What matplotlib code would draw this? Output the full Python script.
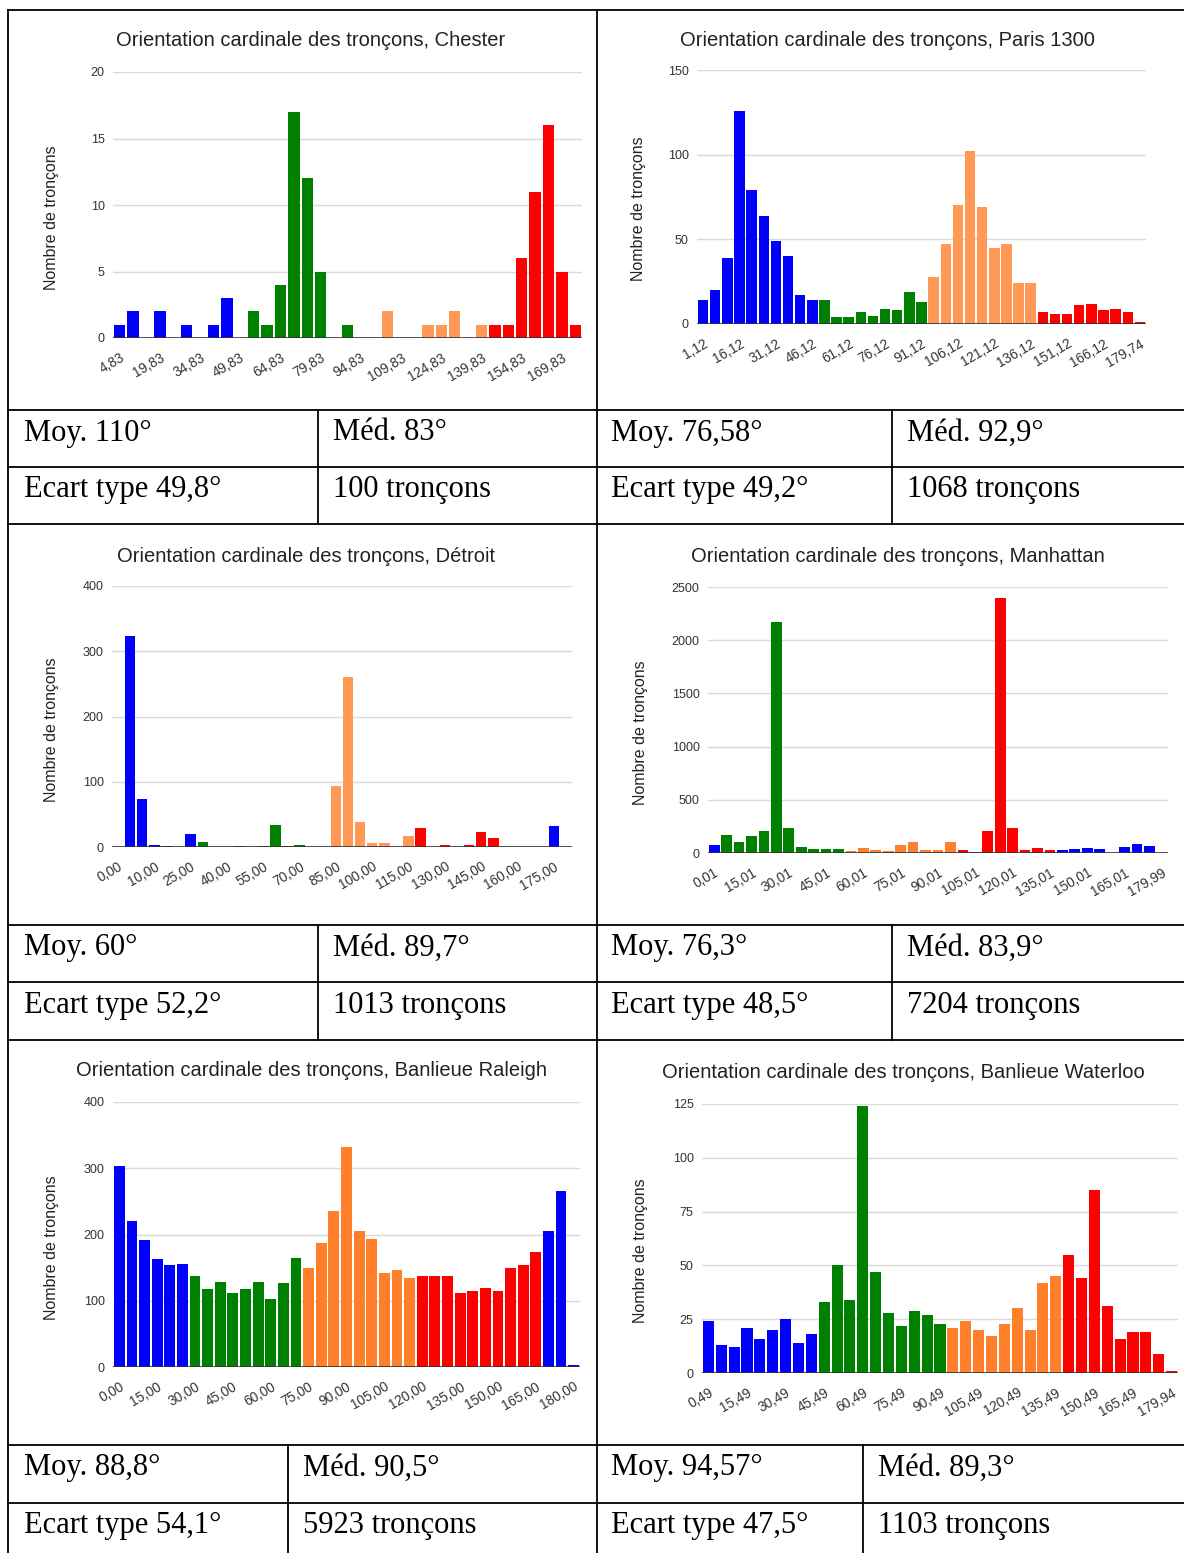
import matplotlib
matplotlib.use("Agg")
import matplotlib.pyplot as plt
from matplotlib.lines import Line2D

W, H = 1184, 1553

# ---- data ----
chester_vals = [1, 2, 0, 2, 0, 1, 0, 1, 3, 0, 2, 1, 4, 17, 12, 5, 0, 1, 0,
                0, 2, 0, 0, 1, 1, 2, 0, 1, 1, 1, 6, 11, 16, 5, 1]
chester_dir = "BBBBBBBBBBGGGGGGGGGOOOOOOOOORRRRRRR"
chester_ticks = ["4,83", "19,83", "34,83", "49,83", "64,83", "79,83", "94,83",
                 "109,83", "124,83", "139,83", "154,83", "169,83"]

paris_vals = [14, 20, 39, 126, 79, 64, 49, 40, 17, 14, 14, 4, 4, 7, 5, 9, 8, 19, 13,
              28, 47, 70, 102, 69, 45, 47, 24, 24, 7, 6, 6, 11, 12, 8, 9, 7, 1]
paris_dir = "BBBBBBBBBBGGGGGGGGGOOOOOOOOORRRRRRRRR"
paris_ticks = ["1,12", "16,12", "31,12", "46,12", "61,12", "76,12", "91,12",
               "106,12", "121,12", "136,12", "151,12", "166,12", "179,74"]

detroit_vals = [0, 324, 74, 3, 2, 0, 20, 8, 0, 0, 2, 0, 2, 33, 2, 3, 0, 0, 94,
                260, 39, 6, 6, 0, 17, 29, 0, 3, 0, 3, 23, 14, 0, 0, 0, 0, 32, 0]
detroit_dir = "BBBBBBBGGGGGGGGGGGOOOOOOORRRRRRRRRRRBB"
detroit_ticks = ["0,00", "10,00", "25,00", "40,00", "55,00", "70,00", "85,00",
                 "100,00", "115,00", "130,00", "145,00", "160,00", "175,00"]

manhattan_vals = [72, 167, 107, 157, 204, 2170, 236, 60, 41, 41, 41, 22, 50, 31, 22,
                  79, 107, 31, 31, 107, 31, 13, 204, 2399, 236, 31, 50, 31, 31, 41,
                  50, 41, 0, 60, 88, 69, 0]
manhattan_dir = "BGGGGGGGGGGOOOOOOOOORRRRRRRRBBBBBBBBB"
manhattan_ticks = ["0,01", "15,01", "30,01", "45,01", "60,01", "75,01", "90,01",
                   "105,01", "120,01", "135,01", "150,01", "165,01", "179,99"]

raleigh_vals = [303, 221, 192, 163, 154, 155, 138, 117, 129, 112, 118, 129, 103, 127,
                164, 150, 187, 235, 332, 205, 193, 142, 146, 135, 138, 137, 138, 111,
                114, 120, 115, 150, 154, 173, 205, 266, 3]
raleigh_dir = "BBBBBBGGGGGGGGGOOOOOOOOORRRRRRRRRRBBB"
raleigh_ticks = ["0,00", "15,00", "30,00", "45,00", "60,00", "75,00", "90,00",
                 "105,00", "120,00", "135,00", "150,00", "165,00", "180,00"]

waterloo_vals = [24, 13, 12, 21, 16, 20, 25, 14, 18, 33, 50, 34, 124, 47, 28, 22, 29,
                 27, 23, 21, 24, 20, 17, 23, 30, 20, 42, 45, 55, 44, 85, 31, 16, 19,
                 19, 9, 1]
waterloo_dir = "BBBBBBBBBGGGGGGGGGGOOOOOOOOORRRRRRRRR"
waterloo_ticks = ["0,49", "15,49", "30,49", "45,49", "60,49", "75,49", "90,49",
                  "105,49", "120,49", "135,49", "150,49", "165,49", "179,94"]

stats = [
    ["Moy. 110°", "Méd. 83°", "Ecart type 49,8°", "100 tronçons"],
    ["Moy. 76,58°", "Méd. 92,9°", "Ecart type 49,2°", "1068 tronçons"],
    ["Moy. 60°", "Méd. 89,7°", "Ecart type 52,2°", "1013 tronçons"],
    ["Moy. 76,3°", "Méd. 83,9°", "Ecart type 48,5°", "7204 tronçons"],
    ["Moy. 88,8°", "Méd. 90,5°", "Ecart type 54,1°", "5923 tronçons"],
    ["Moy. 94,57°", "Méd. 89,3°", "Ecart type 47,5°", "1103 tronçons"],
]

light_orange = "#ff9955"
dark_orange = "#ff7f2a"

# name, values, dirs, ticks, ymax, ystep, orange, plot box (px), title pos, ylabel pos
charts = [
    ("Chester", chester_vals, chester_dir, chester_ticks, 20, 5, light_orange,
     (113, 72, 582, 338), (311, 41), (52, 218)),
    ("Paris 1300", paris_vals, paris_dir, paris_ticks, 150, 50, light_orange,
     (697, 70, 1146, 324), (887, 40), (638, 209)),
    ("Détroit", detroit_vals, detroit_dir, detroit_ticks, 400, 100, light_orange,
     (112, 586, 572, 847), (306, 556), (52, 730)),
    ("Manhattan", manhattan_vals, manhattan_dir, manhattan_ticks, 2500, 500, dark_orange,
     (708, 587, 1168, 853), (898, 557), (640, 733)),
    ("Banlieue Raleigh", raleigh_vals, raleigh_dir, raleigh_ticks, 400, 100, dark_orange,
     (113, 1102, 580, 1367), (311, 1071), (52, 1248)),
    ("Banlieue Waterloo", waterloo_vals, waterloo_dir, waterloo_ticks, 125, 25, dark_orange,
     (702, 1104, 1178, 1373), (903, 1072), (640, 1251)),
]

sans = "Liberation Sans"
serif = "Liberation Serif"

fig = plt.figure(figsize=(W / 100, H / 100), dpi=100)
fig.patch.set_facecolor("white")

for name, vals, dirs, ticks, ymax, ystep, orange, box, tpos, lpos in charts:
    x0, y0, x1, y1 = box
    ax = fig.add_axes([x0 / W, 1 - y1 / H, (x1 - x0) / W, (y1 - y0) / H])
    cmap = {"B": "#0000ff", "G": "#008000", "O": orange, "R": "#ff0000"}
    colors = [cmap[d] for d in dirs]
    n = len(vals)
    ax.bar(range(n), vals, width=0.86, color=colors, zorder=3)
    ax.set_xlim(-0.5, n - 0.5)
    ax.set_ylim(0, ymax)
    yt = list(range(0, ymax + 1, ystep))
    ax.set_yticks(yt)
    ax.set_yticklabels([str(v) for v in yt], fontsize=9, color="#333333", family=sans)
    for v in yt[1:]:
        ax.axhline(v, color="#d9d9d9", lw=1, zorder=1)
    ax.axhline(0, color="#333333", lw=1.2, zorder=4)
    ax.set_xticks(list(range(0, n, 3))[:len(ticks)])
    ax.set_xticklabels(ticks, rotation=30, ha="right", rotation_mode="anchor",
                       fontsize=9.8, color="#333333", family=sans)
    ax.tick_params(axis="both", length=0)
    ax.tick_params(axis="x", pad=9)
    ax.tick_params(axis="y", pad=6)
    for s in ax.spines.values():
        s.set_visible(False)
    fig.text(tpos[0] / W, 1 - tpos[1] / H, "Orientation cardinale des tronçons, " + name,
             ha="center", va="center", fontsize=14.5, family=sans, color="#222222")
    fig.text(lpos[0] / W, 1 - lpos[1] / H, "Nombre de tronçons", rotation=90,
             ha="center", va="center", fontsize=11.5, family=sans, color="#222222")


def hline(y, xa, xb):
    fig.add_artist(Line2D([xa / W, xb / W], [1 - y / H, 1 - y / H], color="black", lw=1.3))


def vline(x, ya, yb):
    fig.add_artist(Line2D([x / W, x / W], [1 - ya / H, 1 - yb / H], color="black", lw=1.3))


# table grid
for y in [10, 410, 467, 524, 925, 982, 1040, 1445, 1503]:
    hline(y, 8, 1184)
vline(8, 10, 1553)
vline(597, 10, 1553)
for ya, yb, xl, xr in [(410, 524, 318, 892), (925, 1040, 318, 892), (1445, 1553, 288, 863)]:
    vline(xl, ya, yb)
    vline(xr, ya, yb)

# stats text
rows = [(433, 490), (948, 1005), (1468, 1525)]
cols = [(24, 333, 611, 907), (24, 333, 611, 907), (24, 303, 611, 878)]
for k, st in enumerate(stats):
    sec = k // 2
    side = k % 2
    ya, yb = rows[sec]
    xa = cols[sec][side * 2]
    xb = cols[sec][side * 2 + 1]
    fig.text(xa / W, 1 - ya / H, st[0], ha="left", va="center", fontsize=22, family=serif)
    fig.text(xb / W, 1 - ya / H, st[1], ha="left", va="center", fontsize=22, family=serif)
    fig.text(xa / W, 1 - yb / H, st[2], ha="left", va="center", fontsize=22, family=serif)
    fig.text(xb / W, 1 - yb / H, st[3], ha="left", va="center", fontsize=22, family=serif)

fig.savefig("out.png", dpi=100)
